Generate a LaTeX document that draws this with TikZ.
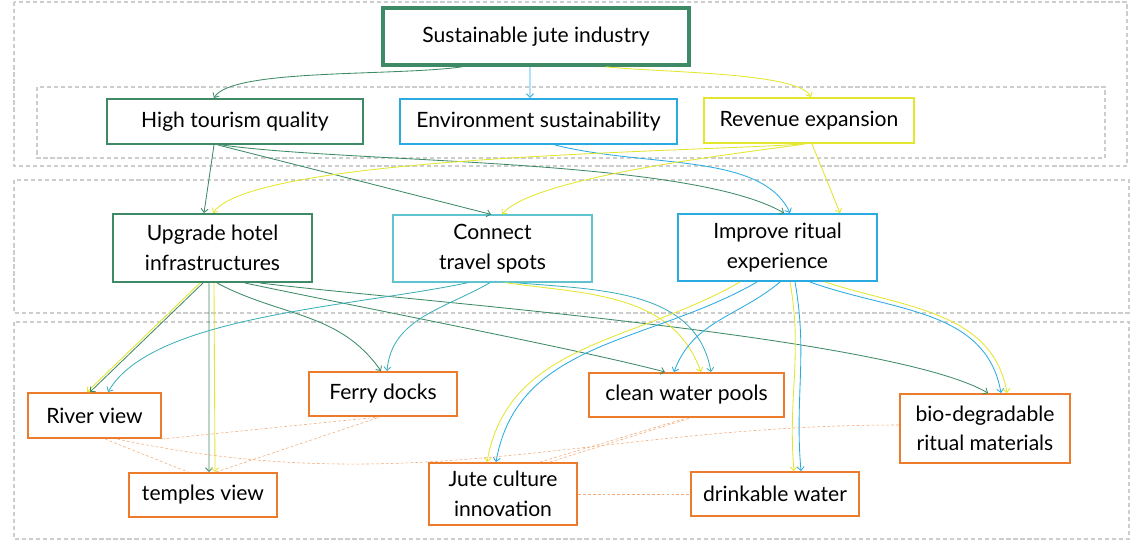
\documentclass[tikz,border=0pt]{standalone}
\usepackage{fontspec}
\setmainfont{Lato}
\usetikzlibrary{arrows.meta}

\definecolor{jgreen}{RGB}{62,138,102}
\definecolor{jblue}{RGB}{41,171,226}
\definecolor{jteal}{RGB}{60,176,186}
\definecolor{jteallight}{RGB}{96,196,208}
\definecolor{jyellow}{RGB}{226,230,45}
\definecolor{jorange}{RGB}{236,124,44}
\definecolor{jgray}{RGB}{205,205,205}

\begin{document}
\begin{tikzpicture}[x=0.025cm, y=0.025cm,
    font=\fontsize{15}{21}\selectfont,
    box/.style={draw, rectangle, align=center, inner sep=2pt},
    goal/.style={box, jgreen, line width=2.6pt, text=black},
    gbox/.style={box, jgreen, line width=1.4pt, text=black},
    bbox/.style={box, jblue, line width=1.4pt, text=black},
    ybox/.style={box, jyellow, line width=1.4pt, text=black},
    tbox/.style={box, jteallight, line width=0.9pt, text=black},
    obox/.style={box, jorange, line width=1.4pt, text=black},
    group/.style={jgray, line width=1.1pt, dash pattern=on 3pt off 2pt},
    link/.style={-{Straight Barb[length=2.6pt,width=5pt]}, line width=0.6pt},
    tie/.style={jorange!65, line width=0.4pt, dash pattern=on 2pt off 1.5pt}]
  \useasboundingbox (0,0) rectangle (1132,-541);

  % --- Level groups ---
  \draw[group] (14,-2) rectangle (1127,-166);
  \draw[group] (37,-87) rectangle (1105,-158);
  \draw[group] (14,-180) rectangle (1129,-313);
  \draw[group] (14,-322) rectangle (1129,-539);

  % --- Goal ---
  \node[goal, minimum width=7.65cm, minimum height=1.425cm] (sji) at (536,-36.5) {Sustainable jute industry};

  % --- Objectives ---
  \node[gbox, minimum width=6.4cm, minimum height=1.125cm] (htq) at (235,-121.5) {High tourism quality};
  \node[bbox, minimum width=6.925cm, minimum height=1.125cm] (env) at (538.5,-121.5) {Environment sustainability};
  \node[ybox, minimum width=5.25cm, minimum height=1.125cm] (rev) at (809,-120.5) {\raisebox{3pt}{Revenue expansion}};

  % --- Strategies ---
  \node[gbox, minimum width=4.975cm, minimum height=1.7cm] (upg) at (212.5,-248) {Upgrade hotel\\infrastructures};
  \node[tbox, minimum width=4.975cm, minimum height=1.675cm] (con) at (492.5,-248.5) {Connect\\travel spots};
  \node[bbox, minimum width=4.975cm, minimum height=1.675cm] (imp) at (777.5,-247.5) {Improve ritual\\experience};

  % --- Actions ---
  \node[obox, minimum width=3.325cm, minimum height=1.125cm] (riv) at (94.5,-415.5) {River view};
  \node[obox, minimum width=3.7cm, minimum height=1.1cm] (fer) at (383,-394) {Ferry docks};
  \node[obox, minimum width=3.7cm, minimum height=1.1cm] (tem) at (203,-495) {temples view};
  \node[obox, minimum width=4.875cm, minimum height=1.1cm] (cwp) at (686.5,-395) {clean water pools};
  \node[obox, minimum width=3.7cm, minimum height=1.55cm] (jci) at (503,-494) {Jute culture\\innovation};
  \node[obox, minimum width=4.2cm, minimum height=1.1cm] (dw) at (775,-494) {drinkable water};
  \node[obox, minimum width=4.25cm, minimum height=1.725cm] (bio) at (985,-428.5) {bio-degradable\\ritual materials};

  % --- Goal to objectives ---
  \draw[link, jgreen] ([xshift=-1.85cm]sji.south) to[out=188, in=60, out looseness=0.7, in looseness=0.35] ([xshift=-0.525cm]htq.north);
  \draw[link, jblue] ([xshift=-0.15cm]sji.south) -- ([xshift=-0.2125cm]env.north);
  \draw[link, jyellow] ([xshift=1.75cm]sji.south) to[out=-6, in=118, out looseness=0.7, in looseness=0.35] ([xshift=0.05cm]rev.north);

  % --- Objectives to strategies ---
  \draw[link, jgreen] ([xshift=-0.525cm]htq.south) -- ([xshift=-0.2125cm]upg.north);
  \draw[link, jgreen] ([xshift=-0.425cm]htq.south) -- ([xshift=-0.0375cm]con.north);
  \draw[link, jgreen] ([xshift=-0.325cm]htq.south) to[out=-8, in=150, out looseness=0.6, in looseness=0.5] ([xshift=0.1625cm]imp.north);
  \draw[link, jblue] ([xshift=0.4125cm]env.south) to[out=-14, in=115, in looseness=0.7] ([xshift=0.3125cm]imp.north);
  \draw[link, jyellow] ([xshift=-0.15cm]rev.south) to[out=184, in=55, out looseness=0.5, in looseness=0.3] ([xshift=0.0125cm]upg.north);
  \draw[link, jyellow] ([xshift=-0.1cm]rev.south) to[out=188, in=50, out looseness=0.6, in looseness=0.4] ([xshift=0.2375cm]con.north);
  \draw[link, jyellow] ([xshift=0.075cm]rev.south) -- ([xshift=1.5625cm]imp.north);

  % --- Strategies to actions ---
  \draw[link, jyellow] ([xshift=-0.3125cm]upg.south) -- ([xshift=-0.1875cm]riv.north);
  \draw[link, jgreen] ([xshift=-0.2375cm]upg.south) -- ([xshift=-0.1125cm]riv.north);
  \draw[link, jgreen] ([xshift=-0.0875cm]upg.south) -- ([xshift=0.15cm]tem.north);
  \draw[link, jyellow] ([xshift=0.0375cm]upg.south) -- ([xshift=0.3cm]tem.north);
  \draw[link, jgreen] ([xshift=0.1125cm]upg.south) to[out=-28, in=125] ([xshift=-0.05cm]fer.north);
  \draw[link, jgreen] ([xshift=0.8125cm]upg.south) to[out=-12, in=165, out looseness=0.6, in looseness=0.5] ([xshift=-0.5375cm]cwp.north);
  \draw[link, jgreen] ([xshift=1.1875cm]upg.south) to[out=-7, in=150, out looseness=0.5, in looseness=0.4] ([xshift=0.075cm]bio.north);

  \draw[link, jteal] ([xshift=-0.6125cm]con.south) to[out=192, in=60, out looseness=0.8, in looseness=0.6] ([xshift=0.3375cm]riv.north);
  \draw[link, jteal] ([xshift=-0.0625cm]con.south) to[out=210, in=85] ([xshift=0.1cm]fer.north);
  \draw[link, jyellow] ([xshift=0.3125cm]con.south) to[out=-8, in=110] ([xshift=0.3625cm]cwp.north);
  \draw[link, jteal] ([xshift=0.5625cm]con.south) to[out=-5, in=100] ([xshift=0.6125cm]cwp.north);

  \draw[link, jyellow] ([xshift=-0.9375cm]imp.south) to[out=210, in=80] ([xshift=-0.4cm]jci.north);
  \draw[link, jblue] ([xshift=-0.5125cm]imp.south) to[out=210, in=80] ([xshift=-0.175cm]jci.north);
  \draw[link, jblue] ([xshift=0.0625cm]imp.south) to[out=220, in=70] ([xshift=-0.3125cm]cwp.north);
  \draw[link, jyellow] ([xshift=0.3125cm]imp.south) to[out=-80, in=95] ([xshift=0.475cm]dw.north);
  \draw[link, jblue] ([xshift=0.4375cm]imp.south) to[out=-80, in=95] ([xshift=0.65cm]dw.north);
  \draw[link, jblue] ([xshift=0.8125cm]imp.south) to[out=-20, in=100] ([xshift=0.4cm]bio.north);
  \draw[link, jyellow] ([xshift=1.1875cm]imp.south) to[out=-18, in=100] ([xshift=0.55cm]bio.north);

  % --- Ties between actions ---
  \draw[tie] ([xshift=0.2625cm]riv.south) -- ([xshift=-0.375cm]tem.north);
  \draw[tie] (riv.south east) -- ([xshift=-0.1cm]fer.south);
  \draw[tie] ([xshift=0.325cm]tem.north) -- ([xshift=-0.075cm]fer.south);
  \draw[tie] ([xshift=0.5625cm]riv.south) to[out=-12, in=180] ([yshift=0.0875cm]bio.west);
  \draw[tie] ([xshift=0.925cm]jci.north) -- (cwp.south);
  \draw[tie] ([xshift=1.175cm]jci.north) -- ([xshift=0.1cm]cwp.south);
  \draw[tie] (jci.east) -- (dw.west);
\end{tikzpicture}
\end{document}
